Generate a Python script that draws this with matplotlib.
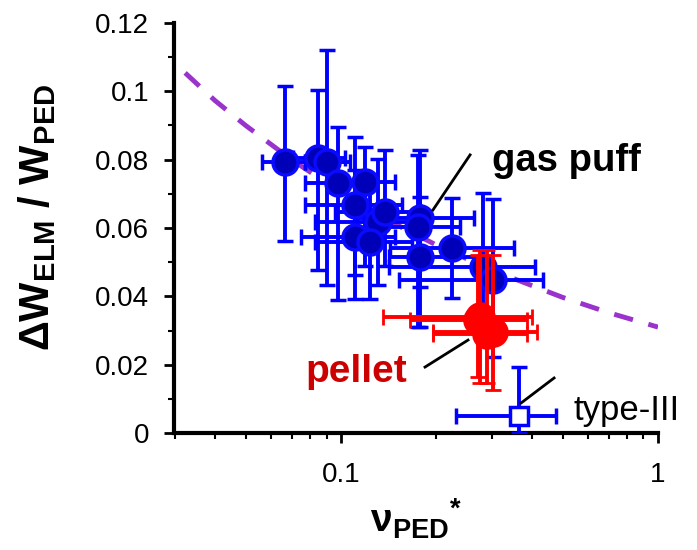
import matplotlib
matplotlib.use("Agg")
import matplotlib.pyplot as plt
import numpy as np
from matplotlib.ticker import MultipleLocator, LogLocator, NullFormatter, FixedLocator, FixedFormatter

plt.rcParams['font.family'] = ['Liberation Sans', 'DejaVu Sans']
plt.rcParams['mathtext.fontset'] = 'custom'
plt.rcParams['mathtext.rm'] = 'Liberation Sans'
plt.rcParams['mathtext.bf'] = 'Liberation Sans:bold'
plt.rcParams['mathtext.it'] = 'Liberation Sans:italic'

# gas puff (blue) points: centre, lower/upper bounds
gas_x = [0.0665, 0.0846, 0.0903, 0.0978, 0.119, 0.1107, 0.1308, 0.1377,
         0.1107, 0.1234, 0.1775, 0.175, 0.1775, 0.224, 0.2805, 0.3016]
gas_y = [0.0793, 0.0805, 0.0793, 0.0732, 0.0735, 0.0667, 0.0617, 0.0647,
         0.0574, 0.0559, 0.0629, 0.0603, 0.0515, 0.0541, 0.0486, 0.0448]
gas_xlo = [0.0564, 0.0706, 0.0772, 0.0772, 0.0957, 0.0772, 0.0830, 0.0957,
           0.0747, 0.0830, 0.112, 0.121, 0.142, 0.143, 0.142, 0.152]
gas_xhi = [0.077, 0.103, 0.107, 0.128, 0.148, 0.156, 0.173, 0.179,
           0.148, 0.168, 0.262, 0.238, 0.279, 0.35, 0.409, 0.433]
gas_ylo = [0.0562, 0.0477, 0.0433, 0.0389, 0.0490, 0.0462, 0.0433, 0.0490,
           0.0392, 0.0392, 0.0427, 0.0310, 0.0310, 0.0395, 0.0272, 0.0222]
gas_yhi = [0.1016, 0.1004, 0.1121, 0.0896, 0.0837, 0.0866, 0.0802, 0.0828,
           0.0770, 0.0755, 0.0828, 0.0814, 0.0690, 0.0688, 0.0702, 0.0685]

# pellet (red) points
pel_x = [0.2745, 0.270, 0.3016, 0.2880]
pel_y = [0.0340, 0.0330, 0.0296, 0.0290]
pel_xlo = [0.1357, 0.165, 0.195, 0.195]
pel_xhi = [0.400, 0.385, 0.415, 0.385]
pel_ylo = [0.0146, 0.0164, 0.0126, 0.0146]
pel_yhi = [0.0536, 0.0521, 0.0521, 0.0536]

# type-III point
t3_x = [0.364]
t3_y = [0.005]
t3_xlo = [0.230]
t3_xhi = [0.477]
t3_ylo = [0.0]
t3_yhi = [0.0193]

# fit curve
fit_x = [0.0322, 0.04, 0.05, 0.07, 0.1, 0.15, 0.2, 0.3, 0.5, 0.7, 1.0]
fit_y = [0.1054, 0.0973, 0.0900, 0.0799, 0.0704, 0.0609, 0.0550, 0.0476, 0.0397, 0.0352, 0.0310]

y_ticks = [0, 0.02, 0.04, 0.06, 0.08, 0.1, 0.12]
y_ticklabels = ['0', '0.02', '0.04', '0.06', '0.08', '0.1', '0.12']
x_ticks = [0.1, 1]
x_ticklabels = ['0.1', '1']

fig = plt.figure(figsize=(6.97, 5.5), dpi=100)
ax = fig.add_axes([174/697, 1-433/550, (658-174)/697, (433-23)/550])

ax.plot(fit_x, fit_y, color='#9933CC', lw=3.5, dashes=(4, 3.3), zorder=1)

def errs(c, lo, hi):
    c = np.array(c); return [c - np.array(lo), np.array(hi) - c]

eb = dict(elinewidth=2.8, capthick=2.8, capsize=6, ls='none')
ax.errorbar(gas_x, gas_y, xerr=errs(gas_x, gas_xlo, gas_xhi), yerr=errs(gas_y, gas_ylo, gas_yhi),
            fmt='o', color='#0000FF', ecolor='#0000FF', mfc='#0000B8', mec='#0A0AFF',
            ms=18, mew=2.5, zorder=3, **eb)
ax.errorbar(pel_x, pel_y, xerr=errs(pel_x, pel_xlo, pel_xhi), yerr=errs(pel_y, pel_ylo, pel_yhi),
            fmt='o', color='#FF0000', ecolor='#FF0000', mfc='#FF0000', mec='#FF0000',
            ms=20, mew=2, zorder=4, **eb)
ax.errorbar(t3_x, t3_y, xerr=errs(t3_x, t3_xlo, t3_xhi), yerr=errs(t3_y, t3_ylo, t3_yhi),
            fmt='s', color='#0000FF', ecolor='#0000FF', mfc='white', mec='#0000FF',
            ms=13, mew=2.5, zorder=4, **eb)

ax.set_xscale('log')
ax.set_xlim(0.0297, 1.0)
ax.set_ylim(0, 0.12)

ax.xaxis.set_major_locator(FixedLocator(x_ticks))
ax.xaxis.set_major_formatter(FixedFormatter(x_ticklabels))
ax.xaxis.set_minor_locator(LogLocator(base=10, subs=np.arange(2, 10)))
ax.xaxis.set_minor_formatter(NullFormatter())
ax.set_yticks(y_ticks)
ax.set_yticklabels(y_ticklabels)
ax.yaxis.set_minor_locator(MultipleLocator(0.01))

for s in ['top', 'right']:
    ax.spines[s].set_visible(False)
for s in ['left', 'bottom']:
    ax.spines[s].set_linewidth(3)
ax.tick_params(which='major', length=7, width=2, direction='out', labelsize=20)
ax.tick_params(axis='x', which='major', pad=14)
ax.tick_params(axis='y', which='major', pad=11)
ax.tick_params(which='minor', length=4, width=1.5, direction='out')

ax.set_ylabel(r'$\mathbf{\Delta W_{ELM}\ /\ W_{PED}}$', fontsize=30)
ax.yaxis.set_label_coords(-0.24, 0.527)
ax.set_xlabel(r'$\mathbf{\nu_{PED}{}^{*}}$', fontsize=28, labelpad=6)

# annotations
ax.plot([0.195, 0.2553], [0.0653, 0.0814], color='black', lw=2, zorder=5)
ax.text(0.30, 0.0795, 'gas puff', fontsize=27.5, fontweight='bold', color='black',
        ha='left', va='center')
ax.plot([0.184, 0.2515], [0.0193, 0.0272], color='black', lw=2, zorder=5)
ax.text(0.077, 0.0180, 'pellet', fontsize=28, fontweight='bold', color='#CC0000',
        ha='left', va='center')
ax.plot([0.37, 0.47], [0.0088, 0.0161], color='black', lw=2, zorder=5)
ax.text(0.54, 0.0067, 'type-III', fontsize=25, color='black', ha='left', va='center')

fig.savefig('out.png', dpi=100)
